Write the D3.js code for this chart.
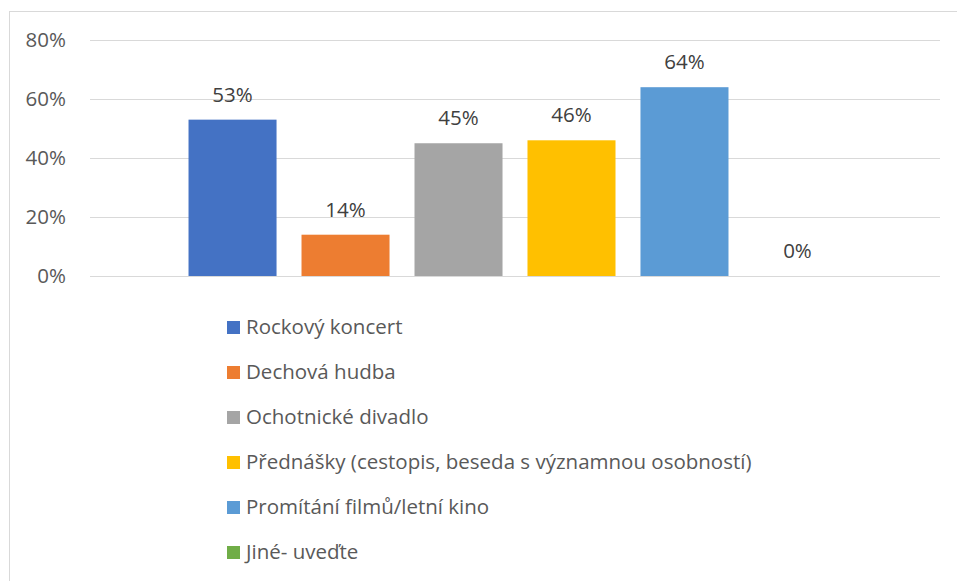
<!DOCTYPE html>
<html lang="cs">
<head>
    <meta charset="UTF-8">
    <title>bar chart</title>
    <script src="https://d3js.org/d3.v7.min.js"></script>
    <style>
        body { margin: 0; background: #fff; }
        text { font-family: "Open Sans", sans-serif; }
    </style>
</head>
<body>
    <svg></svg>
    <script>
        const width = 957;
        const height = 581;

        const series = [
            "Rockový koncert",
            "Dechová hudba",
            "Ochotnické divadlo",
            "Přednášky (cestopis, beseda s významnou osobností)",
            "Promítání filmů/letní kino",
            "Jiné- uveďte"
        ];
        const values = [53, 14, 45, 46, 64, 0];
        const colors = ["#4472C4", "#ED7D31", "#A5A5A5", "#FFC000", "#5B9BD5", "#70AD47"];
        const yTicks = [0, 20, 40, 60, 80];

        const plot = {left: 90, right: 940, top: 40, bottom: 276};

        const svg = d3.select("svg")
            .attr("width", width)
            .attr("height", height);

        // rámeček grafu
        svg.append("rect")
            .attr("x", 9.5).attr("y", 11.5)
            .attr("width", width).attr("height", height)
            .attr("fill", "none")
            .attr("stroke", "#d9d9d9");

        const y = d3.scaleLinear()
            .domain([0, 80])
            .range([plot.bottom, plot.top]);

        const x = d3.scaleBand()
            .domain(series)
            .range([plot.left, plot.right])
            .paddingInner(0.221)
            .paddingOuter(0.872);

        // mřížka
        svg.append("g")
            .selectAll("line")
            .data(yTicks)
            .join("line")
                .attr("x1", plot.left)
                .attr("x2", plot.right)
                .attr("y1", d => Math.round(y(d)) + 0.5)
                .attr("y2", d => Math.round(y(d)) + 0.5)
                .attr("stroke", "#d9d9d9");

        // osa y
        const yAxis = svg.append("g")
            .attr("transform", `translate(${plot.left - 24}, 0)`)
            .call(d3.axisLeft(y).tickValues(yTicks).tickFormat(d => d + "%").tickSize(0).tickPadding(0));
        yAxis.select(".domain").remove();
        yAxis.selectAll("text")
            .attr("fill", "#595959")
            .style("font-size", "20.5px")
            .style("font-family", "'Open Sans', sans-serif");

        // sloupce
        svg.append("g")
            .selectAll("rect")
            .data(values)
            .join("rect")
                .attr("x", (d, i) => x(series[i]))
                .attr("y", d => y(d))
                .attr("width", x.bandwidth())
                .attr("height", d => y(0) - y(d))
                .attr("fill", (d, i) => colors[i]);

        // popisky hodnot
        svg.append("g")
            .selectAll("text")
            .data(values)
            .join("text")
                .attr("x", (d, i) => x(series[i]) + x.bandwidth() / 2)
                .attr("y", d => y(d) - 18)
                .attr("text-anchor", "middle")
                .attr("fill", "#404040")
                .style("font-size", "20.5px")
                .text(d => d + "%");

        // legenda
        const legend = svg.append("g")
            .selectAll("g")
            .data(series)
            .join("g")
                .attr("transform", (d, i) => `translate(227, ${321 + i * 45})`);

        legend.append("rect")
            .attr("width", 13)
            .attr("height", 13)
            .attr("fill", (d, i) => colors[i]);

        legend.append("text")
            .attr("x", 19)
            .attr("y", 13)
            .attr("fill", "#595959")
            .style("font-size", "20.5px")
            .text(d => d);
    </script>
</body>
</html>
